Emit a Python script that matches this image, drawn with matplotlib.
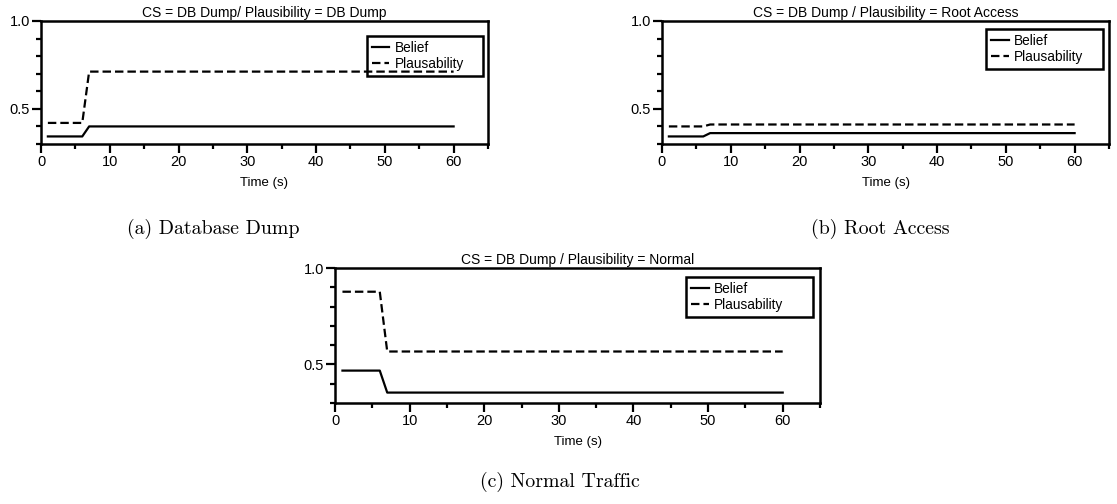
"""Belief / plausibility over time for the DB Dump conclusion set, one panel per traffic scenario."""
import matplotlib.pyplot as plt
from matplotlib.ticker import MultipleLocator

plt.rcParams['font.family'] = ['Liberation Sans', 'DejaVu Sans']

# sample times (s)
time = [1, 6, 7, 60]

# (a) database dump traffic
belief_dump = [0.343, 0.343, 0.40, 0.40]
plaus_dump = [0.42, 0.42, 0.712, 0.712]

# (b) root access traffic
belief_root = [0.343, 0.343, 0.362, 0.362]
plaus_root = [0.40, 0.40, 0.411, 0.411]

# (c) normal traffic
belief_normal = [0.468, 0.468, 0.354, 0.354]
plaus_normal = [0.877, 0.877, 0.567, 0.567]

titles = ['CS = DB Dump/ Plausibility = DB Dump',
          'CS = DB Dump / Plausibility = Root Access',
          'CS = DB Dump / Plausibility = Normal']
captions = ['(a) Database Dump', '(b) Root Access', '(c) Normal Traffic']

W, H = 1117, 504


def px_axes(fig, left, right, top, bottom):
    return fig.add_axes([left / W, 1 - bottom / H, (right - left) / W, (bottom - top) / H])


def draw_panel(ax, belief, plaus, title, legend_box):
    ax.plot(time, belief, color='black', lw=1.6, label='Belief')
    ax.plot(time, plaus, color='black', lw=1.6, linestyle=(0, (3.8, 1.8)), label='Plausability')
    ax.set_xlim(0, 65)
    ax.set_ylim(0.3, 1.0)
    ax.xaxis.set_major_locator(MultipleLocator(10))
    ax.xaxis.set_minor_locator(MultipleLocator(5))
    ax.yaxis.set_major_locator(MultipleLocator(0.5))
    ax.yaxis.set_minor_locator(MultipleLocator(0.1))
    ax.tick_params(which='major', direction='out', length=6.5, width=1.6, labelsize=10.5, pad=1.5)
    ax.tick_params(which='minor', direction='out', length=3.5, width=1.6)
    for sp in ax.spines.values():
        sp.set_linewidth(1.8)
    ax.set_title(title, fontsize=10, pad=3)
    ax.set_xlabel('Time (s)', fontsize=9.5, labelpad=6)
    # legend box stretched to a fixed width, text left aligned, see-through face
    x0, w, top = legend_box
    leg = ax.legend(loc='upper left', bbox_to_anchor=(x0, 0, w, top), mode='expand',
                    borderaxespad=0, fontsize=9.8, fancybox=False, framealpha=1,
                    facecolor='none', edgecolor='black', handlelength=1.3,
                    handletextpad=0.4, labelspacing=0.15, borderpad=0.35)
    leg.get_frame().set_linewidth(1.8)


fig = plt.figure(figsize=(W / 100, H / 100), dpi=100)

ax_a = px_axes(fig, 41, 488, 21, 144)
draw_panel(ax_a, belief_dump, plaus_dump, titles[0], (0.729, 0.260, 0.878))

ax_b = px_axes(fig, 662, 1109, 21, 144)
draw_panel(ax_b, belief_root, plaus_root, titles[1], (0.725, 0.261, 0.932))

ax_c = px_axes(fig, 335, 820, 268, 403)
draw_panel(ax_c, belief_normal, plaus_normal, titles[2], (0.724, 0.262, 0.931))

# subfigure captions
cap_font = dict(fontfamily='cmr10', fontsize=14.3, ha='center', va='center')
fig.text(213 / W, 1 - 229 / H, captions[0], **cap_font)
fig.text(880 / W, 1 - 229 / H, captions[1], **cap_font)
fig.text(560 / W, 1 - 482 / H, captions[2], **cap_font)

fig.savefig('out.png', dpi=100)
